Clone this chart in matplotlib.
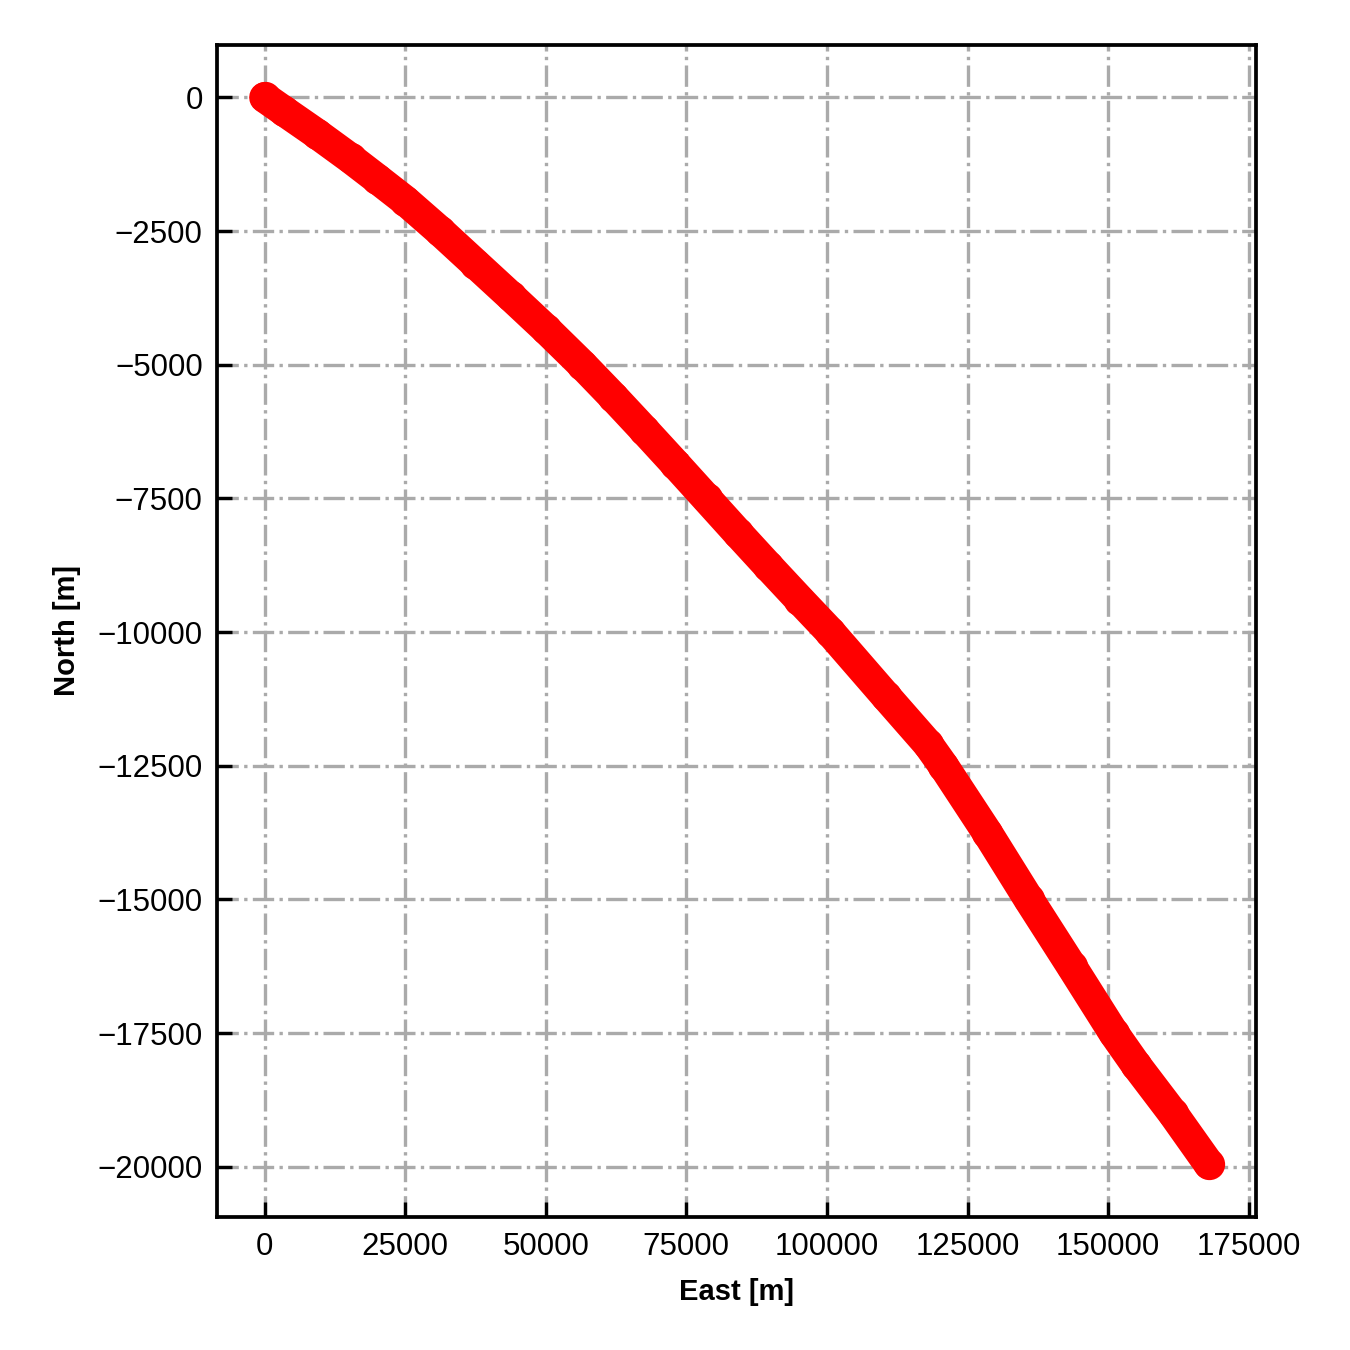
import matplotlib
matplotlib.use("Agg")
import matplotlib.pyplot as plt

plt.rcParams['font.family'] = ['Liberation Sans', 'DejaVu Sans']

east = [0, 3400, 9300, 15300, 20000, 25000, 31200, 37500, 43800, 50000, 56500,
        62000, 67500, 73000, 78600, 84100, 89600, 95100, 100600, 110500, 118000,
        120700, 128500, 135900, 143500, 151000, 155000, 161500, 167900]
north = [0, -250, -680, -1140, -1520, -1930, -2500, -3110, -3720, -4330, -5000,
         -5600, -6220, -6850, -7500, -8140, -8770, -9390, -10000, -11200, -12100,
         -12500, -13750, -15000, -16250, -17500, -18100, -19000, -19950]

fig = plt.figure(figsize=(4.5, 4.5), dpi=300)
ax = fig.add_axes([0.161, 0.0985, 0.769, 0.8685])

ax.plot(east, north, '-', color='red', lw=7.4, solid_capstyle='round',
        solid_joinstyle='round', zorder=3)
ax.plot(east, north, 'o', color='red', ms=6.5, mew=1, zorder=3)

ax.grid(True, linestyle='-.', color='#aaaaaa', lw=0.8, zorder=0)
ax.set_axisbelow(True)

ax.tick_params(direction='in', length=3.5, width=0.8, labelsize=7.5, pad=3.5)
for s in ax.spines.values():
    s.set_linewidth(0.9)

ax.set_xticks([0, 25000, 50000, 75000, 100000, 125000, 150000, 175000])
ax.set_yticks([0, -2500, -5000, -7500, -10000, -12500, -15000, -17500, -20000])
ax.set_xlim(-8400, 176200)
ax.set_ylim(-20940, 990)

ax.set_xlabel('East [m]', fontsize=7, fontweight='bold')
ax.set_ylabel('North [m]', fontsize=7, fontweight='bold')

fig.savefig('out.png', dpi=300)
